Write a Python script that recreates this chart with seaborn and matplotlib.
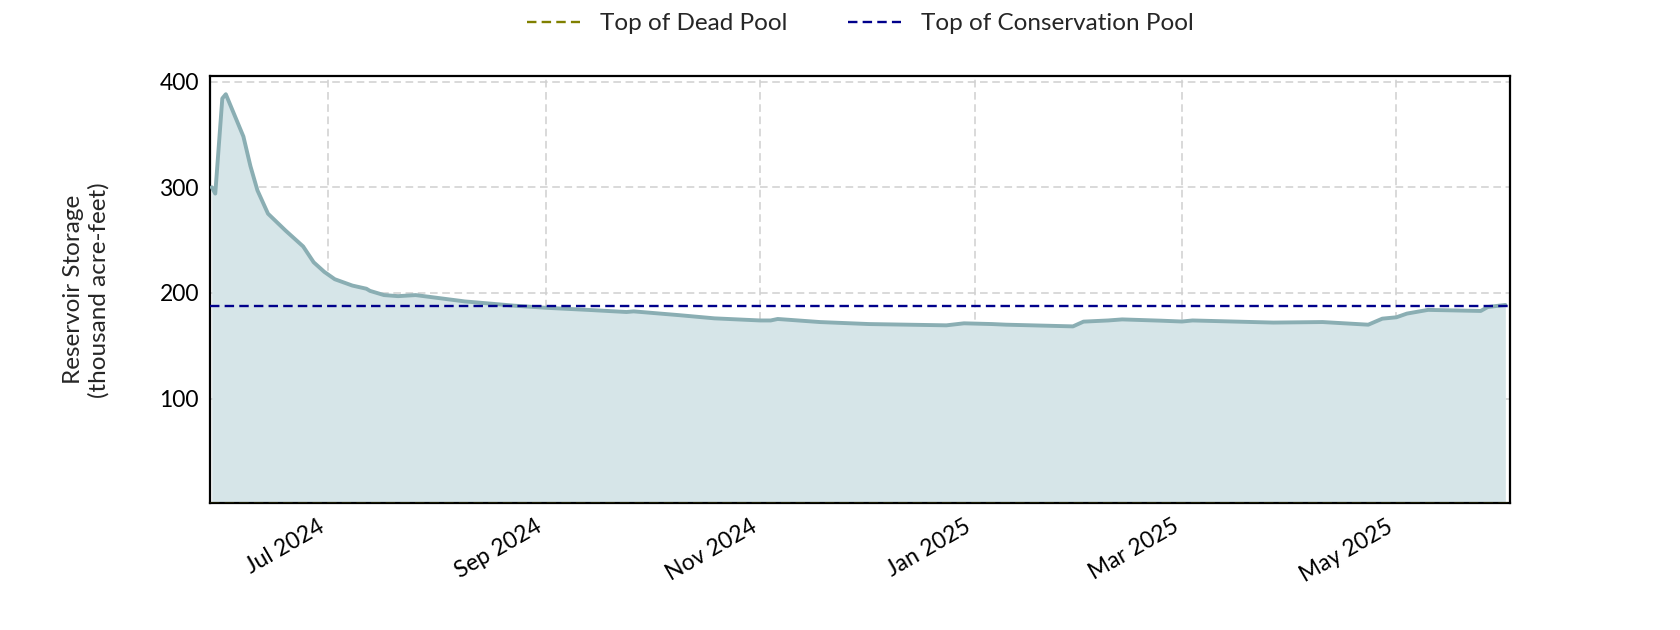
import matplotlib
matplotlib.use("Agg")
import matplotlib.dates as mdates
import matplotlib.pyplot as plt
import pandas as pd
import seaborn as sns

# storage readings (thousand acre-feet)
dates = [
    "2024-05-29", "2024-05-30", "2024-06-01", "2024-06-02", "2024-06-04",
    "2024-06-07", "2024-06-09", "2024-06-11", "2024-06-14", "2024-06-19",
    "2024-06-24", "2024-06-27", "2024-06-30", "2024-07-03", "2024-07-08",
    "2024-07-12", "2024-07-13", "2024-07-17", "2024-07-21", "2024-07-26",
    "2024-08-09", "2024-08-23", "2024-09-01", "2024-09-13", "2024-09-24",
    "2024-09-26", "2024-10-09", "2024-10-19", "2024-11-01", "2024-11-04",
    "2024-11-06", "2024-11-18", "2024-12-02", "2024-12-24", "2024-12-29",
    "2025-01-06", "2025-01-10", "2025-01-29", "2025-02-01", "2025-02-08",
    "2025-02-12", "2025-02-23", "2025-03-01", "2025-03-04", "2025-03-27",
    "2025-04-10", "2025-04-23", "2025-04-27", "2025-05-01", "2025-05-04",
    "2025-05-10", "2025-05-25", "2025-05-27", "2025-06-01",
]
storage = [
    300, 294, 384, 388, 372,
    348, 320, 297, 275, 259,
    244, 229, 220, 213, 207,
    204, 202, 198, 197, 198,
    192, 188, 186, 184, 182,
    182.6, 179, 176, 174, 174,
    175.4, 172.5, 170.6, 169.4, 171.3,
    170.6, 170, 168.4, 172.9, 174,
    175, 173.8, 173, 174, 172,
    172.5, 170, 175.7, 177, 180.5,
    184, 183, 186.7, 188.7,
]
dead_pool = 0
conservation_pool = 188
y_ticks = [100, 200, 300, 400]

LINE_COLOR = "#8aaeb3"
FILL_COLOR = "#d6e5e8"

sns.set_theme(style="white")
plt.rcParams["font.family"] = ["Lato", "DejaVu Sans"]

df = pd.DataFrame({"date": pd.to_datetime(dates), "storage": storage})

fig, ax = plt.subplots(figsize=(16.8, 6.3), dpi=100)
fig.subplots_adjust(left=0.125, right=0.899, top=0.879, bottom=0.201)

ax.fill_between(df["date"], df["storage"], 0, color=FILL_COLOR, lw=0, zorder=1)
sns.lineplot(data=df, x="date", y="storage", ax=ax, color=LINE_COLOR, lw=2.8, zorder=3)
ax.axhline(dead_pool, color="olive", ls="--", lw=1.7, dashes=(4, 2.2), label="Top of Dead Pool", zorder=4)
ax.axhline(conservation_pool, color="darkblue", ls="--", lw=1.7, dashes=(4, 2.2),
           label="Top of Conservation Pool", zorder=4)

ax.set_xlim(pd.Timestamp("2024-05-28 12:00"), pd.Timestamp("2025-06-02 10:00"))
ax.set_ylim(1, 405)
ax.set_yticks(y_ticks)
ax.xaxis.set_major_locator(mdates.MonthLocator(bymonth=[1, 3, 5, 7, 9, 11]))
ax.xaxis.set_major_formatter(mdates.DateFormatter("%b %Y"))
plt.setp(ax.get_xticklabels(), rotation=30, ha="right")
ax.tick_params(axis="both", length=0, labelsize=16.5, colors="black")
ax.tick_params(axis="x", pad=9)
ax.tick_params(axis="y", pad=8)

ax.grid(True, ls="--", color="#d0d0d0", lw=1.1, dashes=(5, 3))
for spine in ax.spines.values():
    spine.set_visible(True)
    spine.set_color("black")
    spine.set_linewidth(1.6)

ax.set_xlabel("")
ax.set_ylabel("Reservoir Storage\n(thousand acre-feet)", fontsize=17.5, labelpad=36)

handles, labels = ax.get_legend_handles_labels()
keep = [i for i, l in enumerate(labels) if l.startswith("Top")]
fig.legend([handles[i] for i in keep], [labels[i] for i in keep],
           loc="center", bbox_to_anchor=(0.512, 0.962), ncol=2, frameon=False,
           fontsize=17.5, columnspacing=2.5, handlelength=2.2)

fig.savefig("out.png", dpi=100)
